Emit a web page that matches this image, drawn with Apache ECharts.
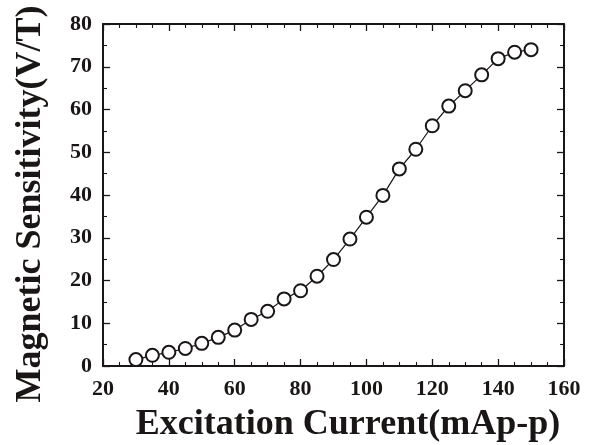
<!DOCTYPE html>
<html>
<head>
<meta charset="utf-8">
<script src="https://cdn.jsdelivr.net/npm/echarts@6/dist/echarts.min.js"></script>
<style>
  html, body { margin: 0; padding: 0; background: #fff; }
  #eChart { width: 600px; height: 445px; }
</style>
</head>
<body>
<div id="eChart"></div>
<script>
// excitation current (mAp-p)
const current = [30, 35, 40, 45, 50, 55, 60, 65, 70, 75, 80, 85, 90, 95, 100,
  105, 110, 115, 120, 125, 130, 135, 140, 145, 150];
// magnetic sensitivity (V/T)
const sensitivity = [1.5, 2.5, 3.2, 4.1, 5.3, 6.7, 8.4, 10.9, 12.8, 15.7, 17.6,
  21.0, 24.9, 29.7, 34.8, 39.9, 46.1, 50.7, 56.2, 60.8, 64.4, 68.1, 71.9, 73.4, 74.0];

const xName = "Excitation Current(mAp-p)";
const yName = "Magnetic Sensitivity(V/T)";

const serif = "'Liberation Serif', 'Times New Roman', serif";
const ink = "#1a1616";

function frameAxis(extra) {
  return {
    type: "value",
    axisLine: { show: true, onZero: false, lineStyle: { color: ink, width: 2 } },
    axisTick: { show: true, inside: true, length: 7, lineStyle: { color: ink, width: 1.3 } },
    minorTick: { show: true, length: 4, lineStyle: { color: ink, width: 1.1 } },
    splitLine: { show: false },
    minorSplitLine: { show: false },
    axisLabel: {
      show: true,
      color: ink,
      fontFamily: serif,
      fontWeight: "bold",
      fontSize: 22,
    },
    ...extra,
  };
}

const option = {
  animation: false,
  backgroundColor: "#fff",
  grid: {
    left: 103, top: 24, right: 36, bottom: 79,
    containLabel: false,
    outerBoundsMode: "none",
  },
  xAxis: [
    frameAxis({
      min: 20, max: 160, interval: 20, position: "bottom",
      minorTick: { show: true, splitNumber: 4, length: 4, lineStyle: { color: ink, width: 1.1 } },
      axisLabel: { color: ink, fontFamily: serif, fontWeight: "bold", fontSize: 22, margin: 12 },
      name: xName,
      nameLocation: "middle",
      nameGap: 41,
      nameTextStyle: {
        color: ink, fontFamily: serif, fontWeight: "bold", fontSize: 36,
        padding: [0, 0, 0, 29],
      },
    }),
    frameAxis({
      min: 20, max: 160, interval: 20, position: "top",
      minorTick: { show: true, splitNumber: 4, length: 4, lineStyle: { color: ink, width: 1.1 } },
      axisLabel: { show: false },
    }),
  ],
  yAxis: [
    frameAxis({
      min: 0, max: 80, interval: 10, position: "left",
      minorTick: { show: true, splitNumber: 2, length: 4, lineStyle: { color: ink, width: 1.1 } },
      axisLabel: { color: ink, fontFamily: serif, fontWeight: "bold", fontSize: 22, margin: 11 },
      name: yName,
      nameLocation: "middle",
      nameGap: 54,
      nameRotate: 90,
      nameTextStyle: {
        color: ink, fontFamily: serif, fontWeight: "bold", fontSize: 36,
        padding: [0, 18, 0, 0],
      },
    }),
    frameAxis({
      min: 0, max: 80, interval: 10, position: "right",
      minorTick: { show: true, splitNumber: 2, length: 4, lineStyle: { color: ink, width: 1.1 } },
      axisLabel: { show: false },
    }),
  ],
  series: [
    {
      type: "line",
      xAxisIndex: 0,
      yAxisIndex: 0,
      data: current.map((c, i) => [c, sensitivity[i]]),
      symbol: "emptyCircle",
      symbolSize: 13,
      showAllSymbol: true,
      lineStyle: { color: ink, width: 1.2 },
      itemStyle: { color: ink, borderColor: ink, borderWidth: 1.3 },
      z: 3,
    },
  ],
};

const myChart = echarts.init(document.getElementById("eChart"), null, { renderer: "canvas" });
myChart.setOption(option);
</script>
</body>
</html>
